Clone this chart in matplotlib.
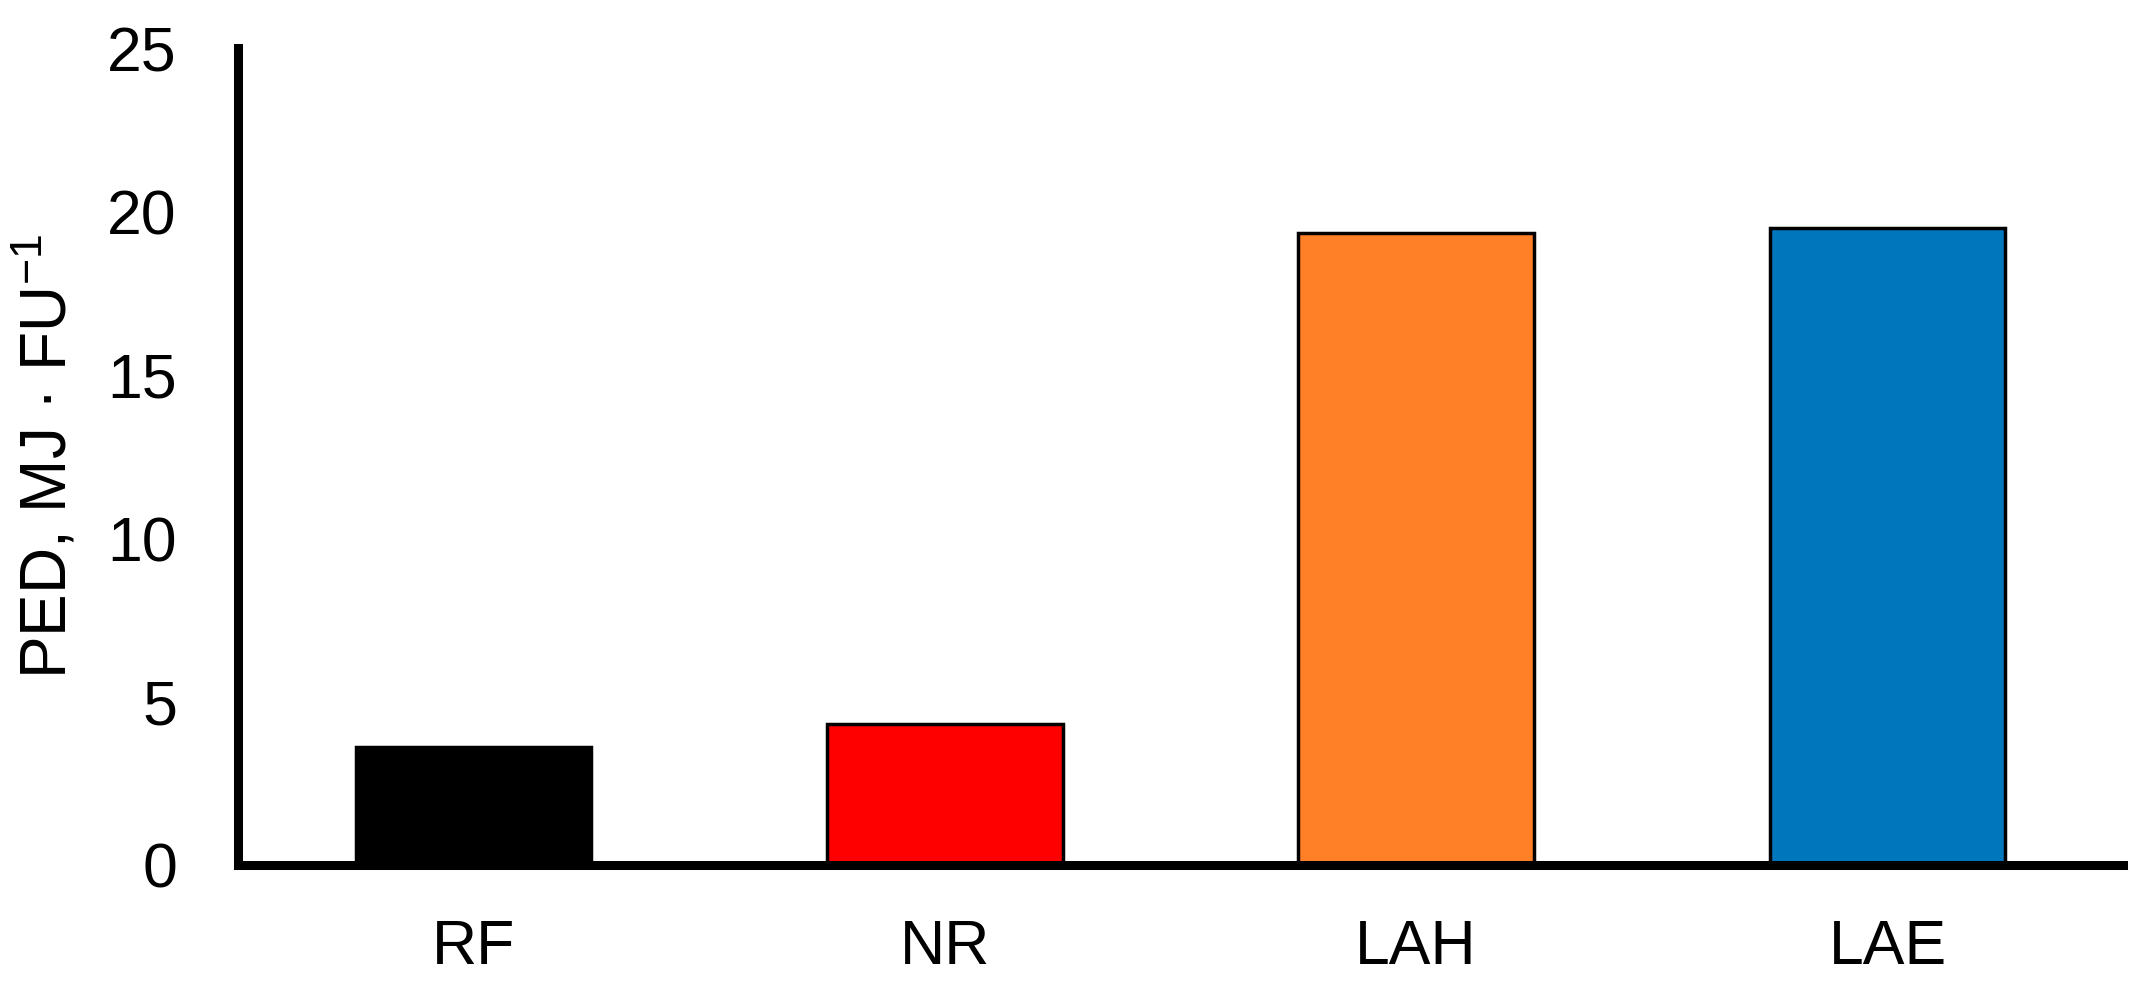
import matplotlib
matplotlib.use("Agg")
import matplotlib.pyplot as plt

categories = ["RF", "NR", "LAH", "LAE"]
values = [3.62, 4.32, 19.34, 19.50]
colors = ["#000000", "#FF0000", "#FF8026", "#0076BD"]
yticks = [0, 5, 10, 15, 20, 25]

plt.rcParams['font.family'] = ['Liberation Sans', 'DejaVu Sans']
plt.rcParams['mathtext.fontset'] = 'custom'
plt.rcParams['mathtext.rm'] = 'Liberation Sans'
plt.rcParams['mathtext.it'] = 'Liberation Sans'

fig = plt.figure(figsize=(21.48, 9.88), dpi=100)
ax = fig.add_axes([0.1108, 0.1245, 0.8776, 0.8269])

x = list(range(len(categories)))
ax.bar(x, values, width=0.5, color=colors, edgecolor="black", linewidth=2.5, zorder=2)

ax.set_xlim(-0.5, 3.5)
ax.set_ylim(0, 25)
ax.set_yticks(yticks)
ax.set_xticks(x)
ax.set_xticklabels(categories)

for s in ["top", "right"]:
    ax.spines[s].set_visible(False)
for s in ["left", "bottom"]:
    ax.spines[s].set_linewidth(6.5)
    ax.spines[s].set_capstyle("projecting")
    ax.spines[s].set_zorder(3)

ax.tick_params(axis="both", length=0, labelsize=45)
ax.tick_params(axis="y", pad=44)
ax.tick_params(axis="x", pad=38)

ax.set_ylabel("PED, MJ · FU$^{\\mathregular{-1}}$", fontsize=46, labelpad=20)

fig.savefig("out.png", dpi=100)
